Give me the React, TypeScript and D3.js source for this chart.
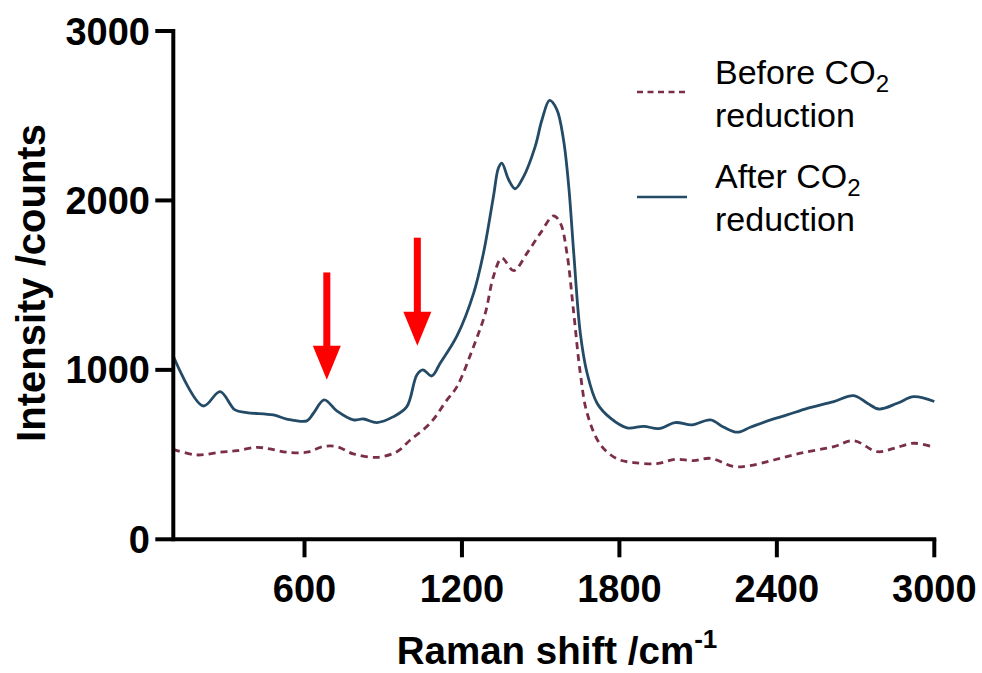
import React from "react";
import * as d3 from "d3";

const xTicks = [600, 1200, 1800, 2400, 3000];
const yTicks = [0, 1000, 2000, 3000];

const afterX = [100, 214, 278, 335, 380, 481, 532, 609, 634, 675, 723, 786, 825, 876, 939, 990, 1028, 1051, 1085, 1117, 1181, 1244, 1282, 1320, 1339, 1352, 1378, 1403, 1435, 1479, 1505, 1534, 1562, 1587, 1607, 1626, 1651, 1677, 1715, 1766, 1829, 1893, 1950, 2013, 2077, 2147, 2198, 2249, 2299, 2376, 2439, 2516, 2617, 2693, 2745, 2789, 2859, 2922, 3000];
const afterY = [1080, 787, 872, 764, 748, 734, 710, 699, 744, 823, 758, 705, 710, 689, 724, 783, 970, 1000, 964, 1039, 1200, 1450, 1689, 2023, 2191, 2220, 2122, 2069, 2141, 2318, 2476, 2590, 2535, 2358, 2082, 1689, 1217, 980, 803, 715, 658, 667, 653, 689, 675, 705, 661, 632, 661, 705, 734, 773, 813, 848, 803, 769, 803, 842, 813];

const beforeX = [100, 189, 278, 342, 418, 469, 532, 609, 672, 723, 786, 876, 952, 1003, 1079, 1143, 1181, 1244, 1289, 1320, 1352, 1397, 1448, 1499, 1549, 1575, 1600, 1626, 1651, 1677, 1727, 1791, 1854, 1943, 2013, 2083, 2147, 2236, 2299, 2388, 2490, 2617, 2693, 2783, 2846, 2922, 3000];
const beforeY = [531, 498, 514, 523, 543, 533, 514, 514, 547, 547, 504, 484, 517, 586, 685, 823, 901, 1137, 1335, 1551, 1659, 1586, 1689, 1807, 1909, 1866, 1689, 1335, 980, 744, 560, 475, 453, 447, 472, 464, 478, 429, 435, 468, 508, 547, 582, 517, 537, 567, 543];

const arrowX = [685, 1030];
const arrowTop = [1575, 1780];
const arrowTip = [941, 1143];

const legendLabels = ["Before CO", "After CO"];

const W = 982, H = 673;
const x = d3.scaleLinear().domain([100, 3000]).range([173.3, 934.3]);
const y = d3.scaleLinear().domain([0, 3000]).range([539.3, 31]);

const FONT = "'Liberation Sans', Arial, sans-serif";
const AFTER_C = "#234a66";
const BEFORE_C = "#7b2e4a";

export default function App() {
  const line = d3.line<[number, number]>().x(d => x(d[0])).y(d => y(d[1])).curve(d3.curveCatmullRom.alpha(0.5));
  const after = line(afterX.map((v, i) => [v, afterY[i]]) as [number, number][]) || "";
  const before = line(beforeX.map((v, i) => [v, beforeY[i]]) as [number, number][]) || "";
  const x0 = x(100), y0 = y(0);
  return (
    <svg width={W} height={H} style={{ position: "absolute", left: 0, top: 0, background: "#fff" }} fontFamily={FONT}>
      <path d={before} fill="none" stroke={BEFORE_C} strokeWidth={2.8} strokeDasharray="7,5" />
      <path d={after} fill="none" stroke={AFTER_C} strokeWidth={2.8} />
      {/* axes */}
      <line x1={x0} x2={x(3000) + 2} y1={y0} y2={y0} stroke="#000" strokeWidth={4} />
      <line x1={x0} x2={x0} y1={y(3000) - 2} y2={y0 + 2} stroke="#000" strokeWidth={4} />
      {xTicks.map(t => (
        <g key={"x" + t}>
          <line x1={x(t)} x2={x(t)} y1={y0} y2={y0 + 18} stroke="#000" strokeWidth={4} />
          <text x={x(t)} y={602} textAnchor="middle" fontSize={38} fontWeight="bold">{t}</text>
        </g>
      ))}
      {yTicks.map(t => (
        <g key={"y" + t}>
          <line x1={x0 - 18} x2={x0} y1={y(t)} y2={y(t)} stroke="#000" strokeWidth={4} />
          <text x={150} y={y(t) + 13.5} textAnchor="end" fontSize={38} fontWeight="bold">{t}</text>
        </g>
      ))}
      <text x={557} y={664} textAnchor="middle" fontSize={38.5} fontWeight="bold">
        Raman shift /cm<tspan fontSize={26} dy={-16}>-1</tspan>
      </text>
      <text transform="translate(45,283) rotate(-90)" textAnchor="middle" fontSize={40} fontWeight="bold">Intensity /counts</text>
      {/* arrows */}
      {arrowX.map((a, i) => {
        const cx = x(a), top = y(arrowTop[i]), tip = y(arrowTip[i]);
        const hb = tip - 34;
        return (
          <g key={"a" + i} fill="#ff0000">
            <rect x={cx - 3.5} y={top} width={7} height={hb - top + 1} />
            <polygon points={`${cx - 14},${hb} ${cx + 14},${hb} ${cx},${tip}`} />
          </g>
        );
      })}
      {/* legend */}
      <line x1={637} x2={687} y1={92} y2={92} stroke={BEFORE_C} strokeWidth={2.6} strokeDasharray="6,4.5" />
      <line x1={637} x2={687} y1={197} y2={197} stroke={AFTER_C} strokeWidth={2.6} />
      {legendLabels.map((l, i) => (
        <g key={"l" + i}>
          <text x={715} y={84 + i * 104} fontSize={34}>{l}<tspan fontSize={24} dy={8}>2</tspan></text>
          <text x={715} y={127 + i * 104} fontSize={34}>reduction</text>
        </g>
      ))}
    </svg>
  );
}
